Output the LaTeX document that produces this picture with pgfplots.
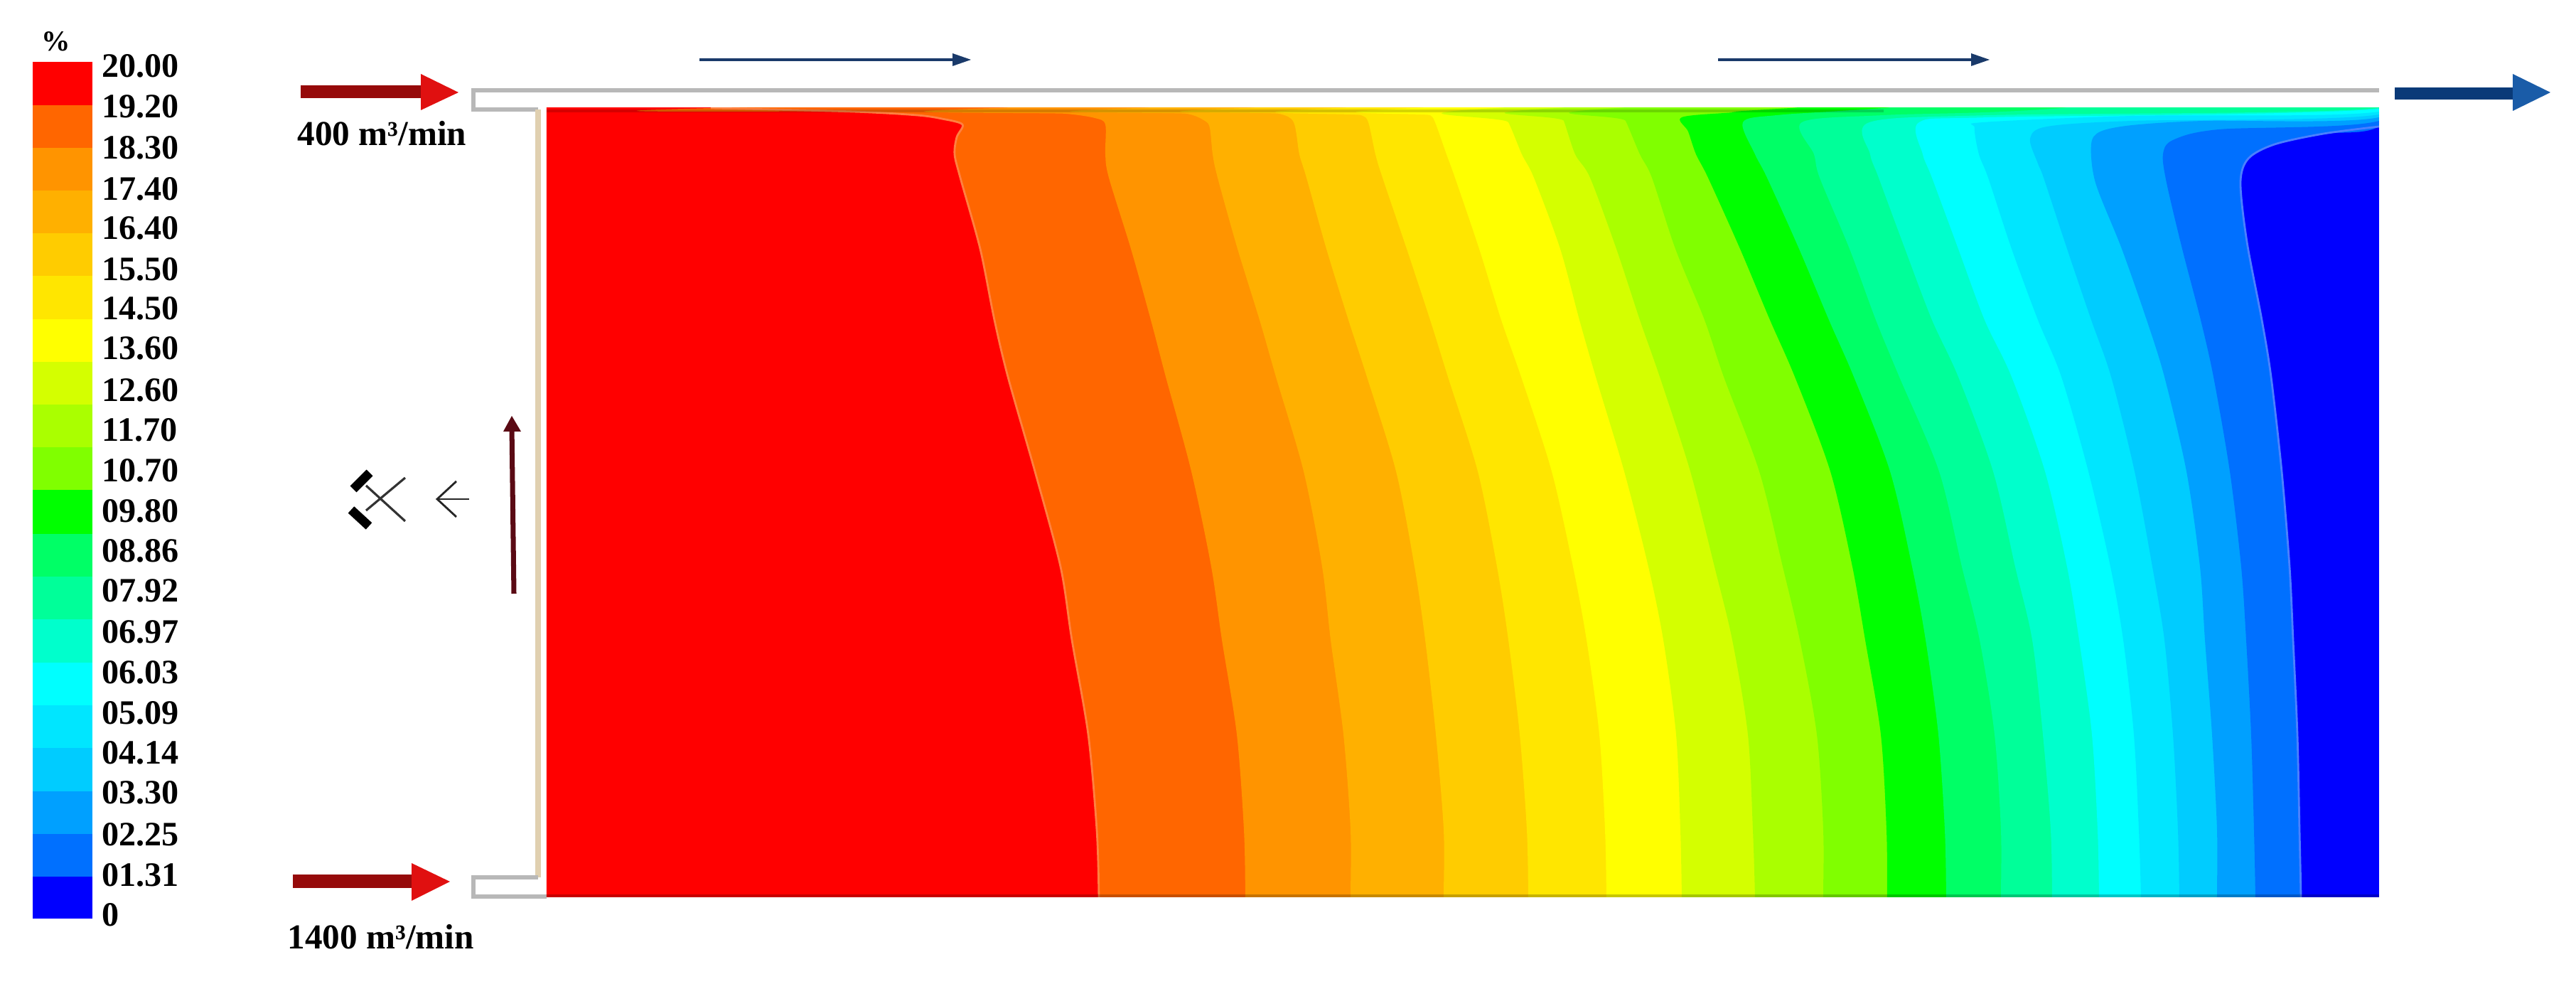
\documentclass[border=0pt]{standalone}
\usepackage{pgfplots}
\pgfplotsset{compat=1.18}
\usepackage{fontspec}
\setmainfont{Liberation Serif}

\definecolor{c1}{HTML}{FF0000}
\definecolor{c2}{HTML}{FF6600}
\definecolor{c3}{HTML}{FF9400}
\definecolor{c4}{HTML}{FFB000}
\definecolor{c5}{HTML}{FFCC00}
\definecolor{c6}{HTML}{FFE600}
\definecolor{c7}{HTML}{FFFF00}
\definecolor{c8}{HTML}{D4FF00}
\definecolor{c9}{HTML}{AAFF00}
\definecolor{c10}{HTML}{80FF00}
\definecolor{c11}{HTML}{00FF00}
\definecolor{c12}{HTML}{00FF66}
\definecolor{c13}{HTML}{00FF99}
\definecolor{c14}{HTML}{00FFCC}
\definecolor{c15}{HTML}{00FFFF}
\definecolor{c16}{HTML}{00E6FF}
\definecolor{c17}{HTML}{00CCFF}
\definecolor{c18}{HTML}{00A0FF}
\definecolor{c19}{HTML}{0070FF}
\definecolor{c20}{HTML}{0000FF}
\definecolor{edgeA}{HTML}{FF8040}
\definecolor{edgeB}{HTML}{4A80FF}
\definecolor{duct}{HTML}{B8B8B8}
\definecolor{wall}{HTML}{E0D0B0}
\definecolor{redS}{HTML}{960A0A}
\definecolor{redH}{HTML}{E01010}
\definecolor{bluS}{HTML}{0A3A78}
\definecolor{bluH}{HTML}{1A5CA8}
\definecolor{navy}{HTML}{1A3A6A}
\definecolor{maroon}{HTML}{5A0A14}

% one contour band: everything right of the boundary, painted left to right.
% Overshoots the field on purpose, the second axis clips it.
\newcommand{\band}[3]{%
  \addplot[fill=#1,draw=none,smooth,tension=0.5] coordinates {(3420,1320)(3420,100)#3} --cycle;
  \addplot[draw=#2,line width=0.8pt,smooth,tension=0.5] coordinates {#3};
}
\newcommand{\cbar}[3]{%
  \addplot[fill=#1,draw=none] coordinates {(46,#2)(130,#2)(130,#3)(46,#3)} --cycle;
}
\newcommand{\lab}[2]{\node[anchor=west,inner sep=0pt] at (axis cs:143,#1) {\lfont #2};}
\newcommand{\lfont}{\bfseries\fontsize{13.7}{14}\selectfont}

\begin{document}
\begin{tikzpicture}
\begin{axis}[
  scale only axis, width=36.24cm, height=13.84cm,
  xmin=0, xmax=3624, ymin=0, ymax=1384, y dir=reverse,
  hide axis, clip=false,
]
% page corners
\addplot[draw=white,line width=0pt] coordinates {(0,0)(3624,1384)};

% colour scale
\cbar{c1}{87}{148}
\cbar{c2}{148}{208}
\cbar{c3}{208}{268}
\cbar{c4}{268}{328}
\cbar{c5}{328}{388}
\cbar{c6}{388}{449}
\cbar{c7}{449}{509}
\cbar{c8}{509}{569}
\cbar{c9}{569}{629}
\cbar{c10}{629}{689}
\cbar{c11}{689}{751}
\cbar{c12}{751}{811}
\cbar{c13}{811}{871}
\cbar{c14}{871}{932}
\cbar{c15}{932}{992}
\cbar{c16}{992}{1052}
\cbar{c17}{1052}{1113}
\cbar{c18}{1113}{1173}
\cbar{c19}{1173}{1233}
\cbar{c20}{1233}{1292}

\node[inner sep=0pt] at (axis cs:79,58) {\bfseries\fontsize{11.5}{12}\selectfont \%};
\lab{93}{20.00}
\lab{150}{19.20}
\lab{208}{18.30}
\lab{266}{17.40}
\lab{321}{16.40}
\lab{379}{15.50}
\lab{434}{14.50}
\lab{490}{13.60}
\lab{549}{12.60}
\lab{605}{11.70}
\lab{662}{10.70}
\lab{719}{09.80}
\lab{775}{08.86}
\lab{831}{07.92}
\lab{889}{06.97}
\lab{946}{06.03}
\lab{1003}{05.09}
\lab{1059}{04.14}
\lab{1115}{03.30}
\lab{1174}{02.25}
\lab{1231}{01.31}
\lab{1287}{0}

% ducts and wall
\addplot[draw=duct,line width=1.7pt] coordinates {(3347,127)(666,127)(666,154)(757,154)};
\addplot[draw=wall,line width=2.2pt] coordinates {(757,154)(757,1234)};
\addplot[draw=duct,line width=1.5pt] coordinates {(757,1234)(666,1234)(666,1261)(769,1261)};

% inlet and outlet arrows
\addplot[fill=redS,draw=none] coordinates {(423,120)(600,120)(600,138)(423,138)} --cycle;
\addplot[fill=redH,draw=none] coordinates {(592,104)(645,130)(592,155)} --cycle;
\addplot[fill=redS,draw=none] coordinates {(412,1230)(587,1230)(587,1249)(412,1249)} --cycle;
\addplot[fill=redH,draw=none] coordinates {(579,1214)(633,1240)(579,1267)} --cycle;
\addplot[fill=bluS,draw=none] coordinates {(3369,123)(3540,123)(3540,140)(3369,140)} --cycle;
\addplot[fill=bluH,draw=none] coordinates {(3535,104)(3588,130)(3535,156)} --cycle;

% flow direction arrows over the duct
\addplot[draw=navy,line width=1.1pt] coordinates {(984,84)(1350,84)};
\addplot[fill=navy,draw=none] coordinates {(1340,75)(1366,84)(1340,93)} --cycle;
\addplot[draw=navy,line width=1.1pt] coordinates {(2417,84)(2783,84)};
\addplot[fill=navy,draw=none] coordinates {(2773,75)(2799,84)(2773,93)} --cycle;

% return air arrow
\addplot[draw=maroon,line width=2pt] coordinates {(723,835)(720,600)};
\addplot[fill=maroon,draw=none] coordinates {(708,607)(720,585)(733,607)} --cycle;

% fan symbol
\addplot[draw=black!80,line width=0.9pt] coordinates {(515,683)(570,733)};
\addplot[draw=black!80,line width=0.9pt] coordinates {(515,718)(570,672)};
\addplot[draw=black,line width=3.6pt] coordinates {(497,688)(520,665)};
\addplot[draw=black,line width=3.6pt] coordinates {(494,717)(519,740)};
\addplot[draw=black!85,line width=0.8pt] coordinates {(660,702)(615,702)};
\addplot[draw=black!85,line width=0.8pt] coordinates {(642,677)(615,702)(642,727)};

\node[anchor=west,inner sep=0pt] at (axis cs:418,188) {\bfseries\fontsize{14}{14}\selectfont 400 m³/min};
\node[anchor=west,inner sep=0pt] at (axis cs:404,1318) {\bfseries\fontsize{14}{14}\selectfont 1400 m³/min};
\end{axis}

% contour field, clipped to its own axis
\begin{axis}[
  at={(7.69cm,1.22cm)},
  scale only axis, width=25.78cm, height=11.10cm,
  xmin=769, xmax=3347, ymin=152, ymax=1262, y dir=reverse,
  hide axis,
]
\addplot[fill=c1,draw=none] coordinates {(700,100)(3420,100)(3420,1320)(700,1320)} --cycle;
\band{c2}{edgeA}{(1000,152)(1200,157)(1290,162)(1325,167)(1354,175)(1346,193)(1343,217)(1351,250)(1379,350)(1399,450)(1418,530)(1456,663)(1492,797)(1508,900)(1531,1033)(1543,1167)(1546,1262)(1546,1320)}
\band{c3}{none}{(1400,152)(1500,160)(1540,166)(1555,175)(1555,217)(1560,250)(1591,350)(1619,450)(1640,530)(1676,663)(1704,797)(1719,900)(1740,1033)(1750,1167)(1752,1262)(1752,1320)}
\band{c4}{none}{(1600,152)(1670,160)(1695,170)(1702,180)(1706,217)(1713,250)(1741,350)(1772,450)(1795,530)(1834,663)(1860,797)(1872,900)(1890,1033)(1900,1167)(1900,1262)(1900,1320)}
\band{c5}{none}{(1750,152)(1800,160)(1820,172)(1828,217)(1838,250)(1866,350)(1897,450)(1923,530)(1964,663)(1990,797)(2005,900)(2020,1033)(2031,1167)(2031,1262)(2031,1320)}
\band{c6}{none}{(1880,152)(1915,162)(1925,172)(1935,217)(1945,250)(1979,350)(2012,450)(2037,530)(2079,663)(2106,797)(2122,900)(2138,1033)(2148,1167)(2150,1262)(2150,1320)}
\band{c7}{none}{(1990,152)(2012,162)(2019,172)(2035,217)(2047,250)(2081,350)(2112,450)(2140,530)(2183,663)(2213,797)(2232,900)(2250,1033)(2258,1167)(2260,1262)(2260,1320)}
\band{c8}{none}{(2105,152)(2122,172)(2141,217)(2158,250)(2195,350)(2222,450)(2245,530)(2285,663)(2319,797)(2340,900)(2358,1033)(2364,1167)(2366,1262)(2366,1320)}
\band{c9}{none}{(2190,152)(2200,170)(2216,217)(2237,250)(2274,350)(2307,450)(2335,530)(2378,663)(2412,797)(2437,900)(2459,1033)(2466,1167)(2469,1262)(2469,1320)}
\band{c10}{none}{(2275,152)(2287,170)(2307,217)(2324,250)(2357,350)(2398,450)(2425,530)(2475,663)(2508,797)(2532,900)(2556,1033)(2565,1167)(2565,1262)(2565,1320)}
\band{c11}{none}{(2519,152)(2440,158)(2366,165)(2375,185)(2386,217)(2403,250)(2448,350)(2490,450)(2525,530)(2575,663)(2606,797)(2624,900)(2646,1033)(2654,1167)(2655,1262)(2655,1320)}
\band{c12}{none}{(2650,152)(2500,162)(2452,172)(2469,217)(2486,250)(2531,350)(2573,450)(2608,530)(2659,663)(2690,797)(2709,900)(2727,1033)(2736,1167)(2738,1262)(2738,1320)}
\band{c13}{none}{(2900,152)(2650,162)(2535,172)(2552,217)(2560,250)(2602,350)(2639,450)(2672,530)(2728,663)(2760,797)(2785,900)(2806,1033)(2815,1167)(2815,1262)(2815,1320)}
\band{c14}{none}{(3347,152)(2800,162)(2630,172)(2631,217)(2643,250)(2680,350)(2718,450)(2755,530)(2804,663)(2835,797)(2859,900)(2874,1033)(2885,1167)(2887,1262)(2887,1320)}
\band{c15}{none}{(3347,153)(2800,165)(2700,172)(2705,217)(2718,250)(2755,350)(2792,450)(2830,530)(2877,663)(2908,797)(2925,900)(2943,1033)(2951,1167)(2953,1262)(2953,1320)}
\band{c16}{none}{(3347,157)(3000,163)(2790,172)(2778,180)(2784,217)(2797,250)(2830,350)(2867,450)(2900,530)(2938,663)(2969,797)(2987,900)(3002,1033)(3009,1167)(3012,1262)(3012,1320)}
\band{c17}{none}{(3347,161)(3000,170)(2880,178)(2856,195)(2867,230)(2875,250)(2908,350)(2942,450)(2970,530)(3003,663)(3028,797)(3045,900)(3057,1033)(3064,1167)(3066,1262)(3066,1320)}
\band{c18}{none}{(3347,165)(3100,170)(3000,176)(2955,185)(2942,203)(2948,257)(2985,350)(3020,450)(3045,530)(3076,663)(3095,797)(3102,900)(3112,1033)(3119,1167)(3119,1262)(3119,1320)}
\band{c19}{none}{(3347,170)(3122,182)(3057,197)(3043,217)(3048,257)(3070,350)(3096,450)(3114,530)(3137,663)(3153,797)(3160,900)(3167,1033)(3171,1167)(3173,1262)(3173,1320)}
\band{c20}{edgeB}{(3347,178)(3269,188)(3200,203)(3163,223)(3152,257)(3161,340)(3182,450)(3195,530)(3210,663)(3221,797)(3226,900)(3232,1033)(3235,1167)(3237,1262)(3237,1320)}

% darker rims of the field
\addplot[draw=black,opacity=0.16,line width=1.4pt] coordinates {(769,156)(2650,156)};
\addplot[draw=black,opacity=0.22,line width=1pt] coordinates {(769,1260)(3347,1260)};
\end{axis}
\end{tikzpicture}
\end{document}
